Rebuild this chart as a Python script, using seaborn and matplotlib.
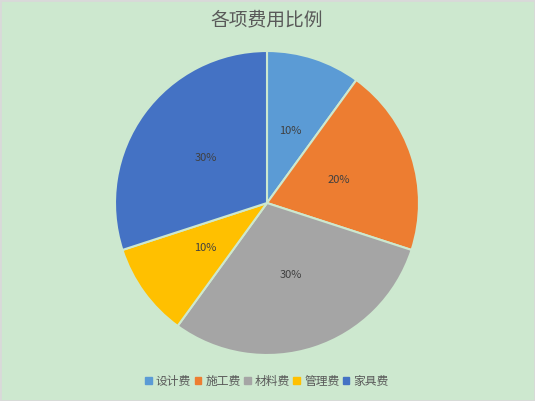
import matplotlib.pyplot as plt
import matplotlib.patches as mpatches
import seaborn as sns

# data
categories = ['设计费', '施工费', '材料费', '管理费', '家具费']
shares = [10, 20, 30, 10, 30]
colors = ['#5B9BD5', '#ED7D31', '#A5A5A5', '#FFC000', '#4472C4']

bg = '#CDE8CF'
text_color = '#595959'

sns.set_theme(style='white')
plt.rcParams['font.family'] = ['Noto Sans CJK SC', 'DejaVu Sans']

W, H = 535, 401
fig = plt.figure(figsize=(W / 100, H / 100), dpi=100, facecolor=bg)

cx, cy, r = 267, 203, 152
ax = fig.add_axes([(cx - r) / W, 1 - (cy + r) / H, 2 * r / W, 2 * r / H])
ax.set_facecolor(bg)

palette = sns.color_palette(colors)
wedges, texts, autotexts = ax.pie(
    shares, colors=palette, startangle=90, counterclock=False,
    autopct='%d%%', pctdistance=0.5,
    wedgeprops=dict(edgecolor=bg, linewidth=1.5),
    textprops=dict(color='#404040', fontsize=8))
ax.set_xlim(-1, 1)
ax.set_ylim(-1, 1)
ax.set_aspect('equal')
ax.axis('off')

fig.text(cx / W, 1 - 20 / H, '各项费用比例', ha='center', va='center',
         fontsize=13.5, color=text_color)

handles = [mpatches.Patch(color=c, label=l) for c, l in zip(palette, categories)]
fig.legend(handles=handles, loc='center', bbox_to_anchor=(cx / W, 1 - 381 / H),
           ncol=5, frameon=False, fontsize=8.5, handlelength=0.55, handleheight=0.55,
           handletextpad=0.35, columnspacing=0.3, labelcolor=text_color)

# thin gray border like the source screenshot
fig.patches.append(mpatches.Rectangle((0, 0), 1, 1, transform=fig.transFigure,
                                      fill=False, edgecolor='#D9D9D9', linewidth=2))

fig.savefig('out.png', dpi=100, facecolor=bg)
